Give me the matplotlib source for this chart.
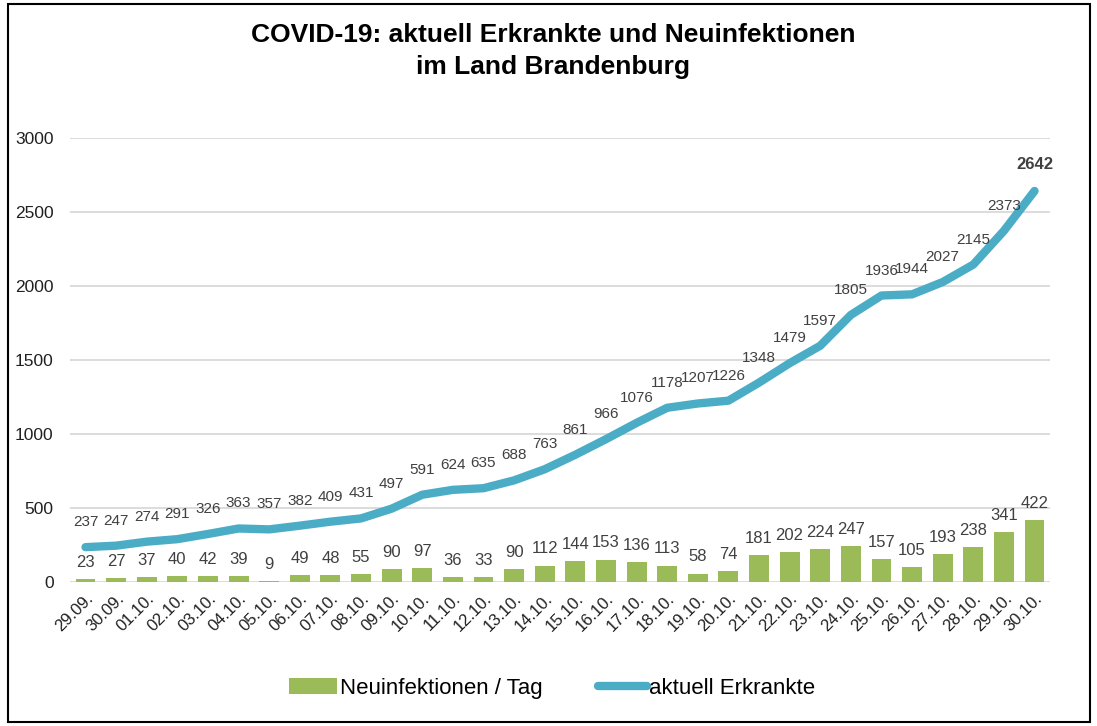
import matplotlib.pyplot as plt
from matplotlib.patches import Rectangle
import numpy as np

dates = ['29.09.', '30.09.', '01.10.', '02.10.', '03.10.', '04.10.', '05.10.', '06.10.',
         '07.10.', '08.10.', '09.10.', '10.10.', '11.10.', '12.10.', '13.10.', '14.10.',
         '15.10.', '16.10.', '17.10.', '18.10.', '19.10.', '20.10.', '21.10.', '22.10.',
         '23.10.', '24.10.', '25.10.', '26.10.', '27.10.', '28.10.', '29.10.', '30.10.']
erkrankte = [237, 247, 274, 291, 326, 363, 357, 382, 409, 431, 497, 591, 624, 635, 688, 763,
             861, 966, 1076, 1178, 1207, 1226, 1348, 1479, 1597, 1805, 1936, 1944, 2027, 2145, 2373, 2642]
neuinfektionen = [23, 27, 37, 40, 42, 39, 9, 49, 48, 55, 90, 97, 36, 33, 90, 112,
                  144, 153, 136, 113, 58, 74, 181, 202, 224, 247, 157, 105, 193, 238, 341, 422]
yticks = [0, 500, 1000, 1500, 2000, 2500, 3000]

plt.rcParams['font.family'] = ['Liberation Sans Narrow', 'Liberation Sans', 'DejaVu Sans']

c_bar = '#9bbb59'
c_line = '#4bacc6'
c_text = '#404040'

fig = plt.figure(figsize=(10.97, 7.26), dpi=100)
ax = fig.add_axes([0.064, 0.198, 0.893, 0.612])

x = np.arange(len(dates))
bars = ax.bar(x, neuinfektionen, width=0.65, color=c_bar, zorder=2)
line, = ax.plot(x, erkrankte, color=c_line, lw=6, solid_capstyle='round',
                solid_joinstyle='round', zorder=3)

# data labels
for xi, v in zip(x, neuinfektionen):
    ax.annotate(str(v), (xi, v), xytext=(0, 12), textcoords='offset points',
                ha='center', va='center', fontsize=12, color=c_text, zorder=4)
for xi, v in zip(x[:-1], erkrankte[:-1]):
    ax.annotate(str(v), (xi, v), xytext=(0, 18), textcoords='offset points',
                ha='center', va='center', fontsize=11, color=c_text, zorder=4)
ax.annotate(str(erkrankte[-1]), (x[-1], erkrankte[-1]), xytext=(0, 19), textcoords='offset points',
            ha='center', va='center', fontsize=12, fontweight='bold', color=c_text, zorder=4)

ax.set_xlim(-0.5, len(dates) - 0.5)
ax.set_ylim(0, 3000)
ax.set_yticks(yticks)
ax.set_xticks(x)
ax.set_xticklabels(dates, rotation=45, ha='right', va='top', rotation_mode='anchor', fontsize=12)
ax.tick_params(axis='y', labelsize=12.5, length=0, pad=12, labelcolor='#202020')
ax.tick_params(axis='x', length=0, pad=6, labelcolor='#202020')
ax.grid(axis='y', color='#d9d9d9', lw=1.3, zorder=0)
for s in ax.spines.values():
    s.set_visible(False)

fig.text(0.504, 0.93, 'COVID-19: aktuell Erkrankte und Neuinfektionen\nim Land Brandenburg',
         ha='center', va='center', fontsize=19, fontweight='bold', linespacing=1.4)

fig.legend([bars, line], ['Neuinfektionen / Tag', 'aktuell Erkrankte'],
           loc='center', bbox_to_anchor=(0.503, 0.052), ncol=2, frameon=False, fontsize=16,
           handlelength=2.2, handletextpad=0.1, columnspacing=2.5)

fig.patches.append(Rectangle((0.007, 0.006), 0.987, 0.988, transform=fig.transFigure,
                             fill=False, edgecolor='black', lw=1.5))

plt.savefig('out.png', dpi=100)
